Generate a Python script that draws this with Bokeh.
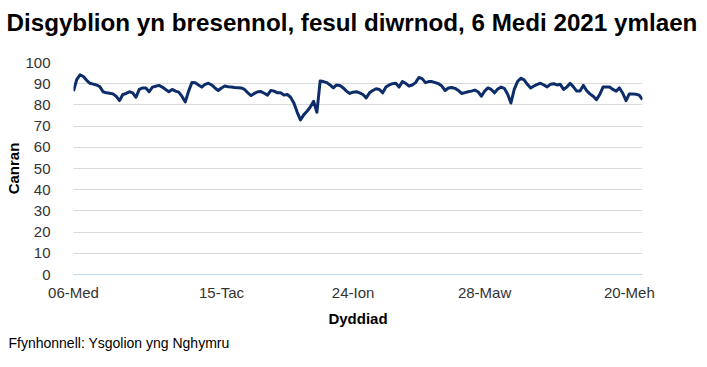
from bokeh.plotting import figure
from bokeh.models import Range1d, FixedTicker, Title
from bokeh.embed import file_html
from bokeh.resources import INLINE

# Daily attendance (%) per school day, from 6 Sept 2021
attendance = [
    86.5, 92.0, 94.2, 93.4, 91.6, 90.2, 89.8, 89.4, 88.6, 86.2,
    85.7, 85.5, 85.2, 84.0, 82.0, 84.9, 85.4, 86.2, 85.7, 83.6,
    87.3, 88.0, 88.0, 86.2, 88.4, 88.8, 89.2, 88.4, 87.3, 86.2,
    87.3, 86.5, 86.0, 84.0, 81.4, 86.5, 90.6, 90.5, 89.4, 88.4,
    89.7, 90.2, 89.4, 88.0, 86.8, 88.0, 88.9, 88.6, 88.4, 88.2,
    88.1, 88.0, 87.3, 85.7, 84.4, 85.4, 86.2, 86.3, 85.5, 84.6,
    86.8, 86.5, 85.7, 85.7, 84.6, 84.9, 83.6, 80.9, 76.6, 72.9,
    75.3, 77.0, 79.0, 81.7, 76.5, 91.3, 91.0, 90.5, 89.4, 88.0,
    89.4, 89.2, 88.0, 86.5, 85.4, 86.0, 86.2, 85.7, 84.9, 83.3,
    85.7, 86.8, 87.6, 87.3, 85.7, 88.4, 89.4, 90.0, 90.2, 88.4,
    91.0, 90.2, 88.9, 89.4, 90.5, 92.9, 92.4, 90.5, 91.0, 91.0,
    90.5, 90.0, 88.9, 86.8, 88.0, 88.2, 87.8, 86.8, 85.4, 85.8,
    86.2, 86.5, 87.0, 86.2, 84.1, 86.5, 88.0, 87.3, 85.7, 87.5,
    88.4, 87.8, 85.0, 80.9, 87.3, 91.0, 92.6, 91.8, 89.7, 88.0,
    88.9, 89.7, 90.2, 89.4, 88.5, 89.7, 90.0, 89.4, 89.7, 87.3,
    88.4, 90.2, 88.5, 86.5, 86.5, 89.2, 86.8, 85.2, 84.1, 82.5,
    84.9, 88.4, 88.4, 88.4, 87.3, 86.5, 88.0, 85.5, 82.0, 85.2,
    85.2, 85.0, 84.6, 82.5,
]
day_index = list(range(len(attendance)))

tick_positions = [0, 45, 85, 125, 169]
tick_labels = ["06-Med", "15-Tac", "24-Ion", "28-Maw", "20-Meh"]

title_text = "Disgyblion yn bresennol, fesul diwrnod, 6 Medi 2021 ymlaen"
source_text = "Ffynhonnell: Ysgolion yng Nghymru"
x_title = "Dyddiad"
y_title = "Canran"

FONT = "Liberation Sans"

p = figure(width=707, height=367, output_backend="svg", toolbar_location=None,
           x_range=Range1d(0, len(attendance) - 1), y_range=Range1d(0, 100))
p.title = None
p.min_border_left = 73
p.min_border_right = 65
p.min_border_top = 61
p.min_border_bottom = 93
p.outline_line_color = None
p.background_fill_color = "white"
p.border_fill_color = "white"

p.line(day_index, attendance, line_color="#0c2d69", line_width=3, line_join="round")

# spacer between the frame and the title (added first: closest to the frame)
spacer = Title(text=" ", text_font=FONT, text_font_size="1px", standoff=13)
p.add_layout(spacer, "above")

main_title = Title(text=title_text, text_font=FONT, text_font_size="24.2px",
                   text_font_style="bold", text_color="#000000", align="left",
                   vertical_align="top", offset=-67, standoff=17)
p.add_layout(main_title, "above")

# axes
p.xaxis.ticker = FixedTicker(ticks=tick_positions)
p.xaxis.major_label_overrides = {t: l for t, l in zip(tick_positions, tick_labels)}
p.xaxis.axis_line_color = "#bdd7ee"
p.xaxis.axis_line_width = 1
p.xaxis.major_tick_line_color = None
p.xaxis.minor_tick_line_color = None
p.xaxis.major_label_standoff = 3
p.xaxis.major_label_text_font = FONT
p.xaxis.major_label_text_font_size = "15px"
p.xaxis.major_label_text_color = "#333333"
p.xaxis.axis_label = x_title
p.xaxis.axis_label_text_font = FONT
p.xaxis.axis_label_text_font_size = "15px"
p.xaxis.axis_label_text_font_style = "bold"
p.xaxis.axis_label_text_color = "#000000"
p.xaxis.axis_label_standoff = 6

p.yaxis.ticker = FixedTicker(ticks=list(range(0, 101, 10)))
p.yaxis.axis_line_color = None
p.yaxis.major_tick_line_color = None
p.yaxis.minor_tick_line_color = None
p.yaxis.major_label_standoff = 17
p.yaxis.major_label_text_font = FONT
p.yaxis.major_label_text_font_size = "15px"
p.yaxis.major_label_text_color = "#333333"
p.yaxis.axis_label = y_title
p.yaxis.axis_label_text_font = FONT
p.yaxis.axis_label_text_font_size = "15px"
p.yaxis.axis_label_text_font_style = "bold"
p.yaxis.axis_label_text_color = "#000000"
p.yaxis.axis_label_standoff = 0

p.xgrid.grid_line_color = None
p.ygrid.grid_line_color = "#d9d9d9"
p.ygrid.grid_line_width = 1

src = Title(text=source_text, align="left", offset=-65, text_font=FONT,
            text_font_size="14px", text_font_style="normal", text_color="#000000",
            standoff=6)
p.add_layout(src, "below")

open("out.html", "w").write(file_html(p, INLINE))
